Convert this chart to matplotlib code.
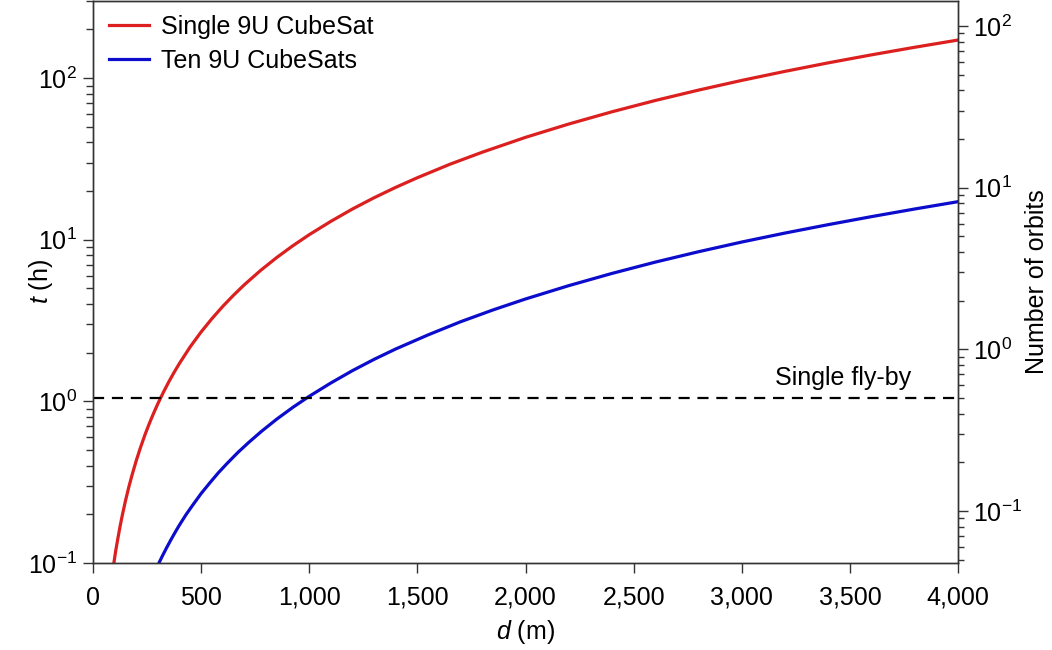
import matplotlib
matplotlib.use("Agg")
import matplotlib.pyplot as plt
from matplotlib.ticker import LogLocator, NullFormatter

plt.rcParams['font.family'] = ['Liberation Sans', 'DejaVu Sans']
plt.rcParams['mathtext.fontset'] = 'custom'
plt.rcParams['mathtext.rm'] = 'Liberation Sans'
plt.rcParams['mathtext.it'] = 'Liberation Sans:italic'
plt.rcParams['mathtext.bf'] = 'Liberation Sans:bold'

# --- data ---
d_single = [97, 105, 115, 125, 135, 150, 165, 180, 200, 220, 240, 260, 280, 300, 325, 350,
            375, 400, 450, 500, 550, 600, 650, 700, 775, 850, 925, 1000, 1100, 1200, 1300,
            1400, 1500, 1650, 1800, 2000, 2200, 2400, 2600, 2800, 3000, 3200, 3400, 3600,
            3800, 4000]
t_single = [0.101, 0.119, 0.142, 0.168, 0.196, 0.242, 0.293, 0.348, 0.43, 0.52, 0.62, 0.727,
            0.843, 0.968, 1.135, 1.317, 1.512, 1.72, 2.18, 2.69, 3.25, 3.87, 4.54, 5.27, 6.46,
            7.77, 9.20, 10.75, 13.0, 15.5, 18.2, 21.1, 24.2, 29.3, 34.8, 43.0, 52.0, 61.9,
            72.7, 84.3, 96.8, 110.1, 124.3, 139.3, 155.2, 172.0]

d_ten = [305, 320, 340, 360, 380, 400, 430, 460, 500, 540, 580, 620, 670, 720, 780, 850,
         925, 1000, 1100, 1200, 1300, 1400, 1550, 1700, 1850, 2000, 2200, 2400, 2600, 2800,
         3000, 3200, 3400, 3600, 3800, 4000]
t_ten = [0.100, 0.110, 0.124, 0.139, 0.155, 0.172, 0.199, 0.227, 0.269, 0.313, 0.362, 0.413,
         0.483, 0.557, 0.654, 0.777, 0.920, 1.075, 1.30, 1.55, 1.82, 2.11, 2.58, 3.11, 3.68,
         4.30, 5.20, 6.19, 7.27, 8.43, 9.68, 11.0, 12.4, 13.9, 15.5, 17.2]

flyby_t = 1.05
hours_per_orbit = 2.1

labels = ['Single 9U CubeSat', 'Ten 9U CubeSats']
x_ticks = [0, 500, 1000, 1500, 2000, 2500, 3000, 3500, 4000]
x_ticklabels = ['0', '500', '1,000', '1,500', '2,000', '2,500', '3,000', '3,500', '4,000']
left_yticks = [0.1, 1, 10, 100]
left_yticklabels = [r'$10^{-1}$', r'$10^{0}$', r'$10^{1}$', r'$10^{2}$']
right_yticks = [0.1, 1, 10, 100]
right_yticklabels = [r'$10^{-1}$', r'$10^{0}$', r'$10^{1}$', r'$10^{2}$']

FS = 18
fig = plt.figure(figsize=(10.52, 6.5), dpi=100)
ax = fig.add_axes([93/1052, 87/650, 865/1052, 562/650])

red = '#dc1f1f'
blue = '#0c0ccc'
ax.plot(d_single, t_single, color=red, lw=2.3, label=labels[0])
ax.plot(d_ten, t_ten, color=blue, lw=2.3, label=labels[1])
ax.axhline(flyby_t, color='black', lw=1.6, ls=(0, (5, 3.5)))
ax.text(3470, 1.40, 'Single fly-by', ha='center', va='center', fontsize=FS)

ax.set_yscale('log')
ax.set_xlim(0, 4000)
ylo, yhi = 0.1, 300
ax.set_ylim(ylo, yhi)
ax.set_xticks(x_ticks)
ax.set_xticklabels(x_ticklabels)
ax.set_yticks(left_yticks)
ax.set_yticklabels(left_yticklabels)
ax.yaxis.set_minor_locator(LogLocator(base=10, subs=range(2, 10), numticks=20))
ax.yaxis.set_minor_formatter(NullFormatter())

ax.tick_params(axis='x', which='major', direction='out', length=7.5, width=1.0,
               labelsize=FS, pad=9, color='#333333')
ax.tick_params(axis='y', which='major', direction='out', length=7.5, width=1.0,
               labelsize=FS, pad=4, color='#333333')
ax.tick_params(axis='y', which='minor', direction='out', length=5, width=1.0, color='#333333')
for s in ax.spines.values():
    s.set_linewidth(1.0)
    s.set_color('#333333')

ax.set_xlabel(r'$d$ (m)', fontsize=FS)
ax.xaxis.set_label_coords(0.5, -0.098)
ax.set_ylabel(r'$t$ (h)', fontsize=FS)
ax.yaxis.set_label_coords(-0.044, 0.5)

ax2 = ax.twinx()
ax2.set_yscale('log')
ax2.set_ylim(ylo / hours_per_orbit, yhi / hours_per_orbit)
ax2.set_yticks(right_yticks)
ax2.set_yticklabels(right_yticklabels)
ax2.yaxis.set_minor_locator(LogLocator(base=10, subs=range(2, 10), numticks=20))
ax2.yaxis.set_minor_formatter(NullFormatter())
ax2.tick_params(axis='y', which='major', direction='out', length=7, width=1.0,
                labelsize=FS, pad=4, color='#333333')
ax2.tick_params(axis='y', which='minor', direction='out', length=4.5, width=1.0, color='#333333')
for s in ax2.spines.values():
    s.set_linewidth(1.0)
    s.set_color('#333333')
ax2.set_ylabel('Number of orbits', fontsize=FS)
ax2.yaxis.set_label_coords(1.078, 0.5)

leg = ax.legend(loc='upper left', frameon=False, fontsize=FS, handlelength=1.6,
                handletextpad=0.45, labelspacing=0.4, borderaxespad=0.15,
                bbox_to_anchor=(0.003, 1.0))

fig.savefig('out.png', dpi=100)
